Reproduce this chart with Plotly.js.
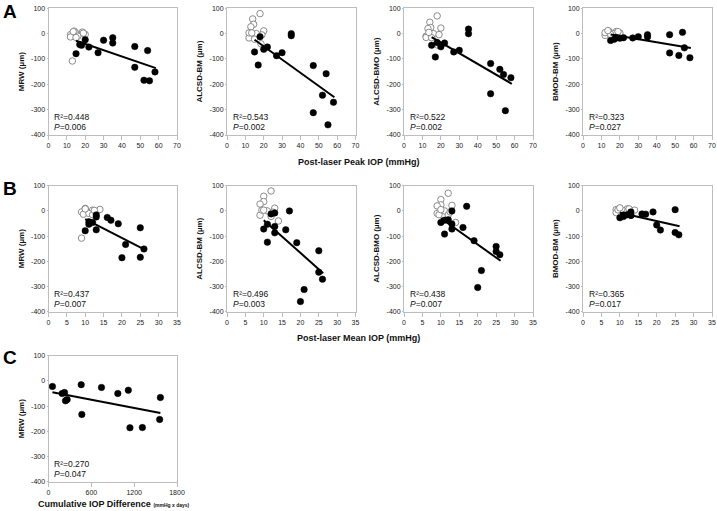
<!DOCTYPE html>
<html>
<head>
<meta charset="utf-8">
<script src="https://cdn.plot.ly/plotly-3.0.1.min.js"></script>
<style>html,body{margin:0;padding:0;background:#fff;}#chart{width:717px;height:511px;}</style>
</head>
<body>
<div id="chart"></div>
<script>
// ---- Data ----
// Eyes with elevated IOP (filled circles)
const peakFilled = [15, 17, 18, 20, 22, 27, 30, 35, 35, 47, 47, 52, 54, 55, 58];
const meanFilled = [10, 11, 12, 13, 11, 13, 16, 17, 13, 19, 21, 25, 25, 20, 26];
const mrwFilled = [-79, -43, -46, -24, -53, -75, -26, -37, -16, -51, -133, -184, -67, -186, -151];
const alcsdBmFilled = [-72, -124, -12, -62, -53, -87, -75, 0, -8, -126, -312, -243, -158, -360, -271];
const alcsdBmoFilled = [-46, -92, -35, -52, -37, -72, -66, 18, 0, -118, -237, -141, -161, -304, -174];
const bmodBmFilled = [-27, -22, -15, -18, -16, -17, -12, -13, -4, -4, -76, -86, 5, -56, -95];

// Eyes without IOP elevation (open circles)
const peakOpen = [18, 14, 14.5, 13, 20, 18.5, 12, 12, 16, 15, 19, 13.5];
const meanOpen = [12, 10, 10, 9, 13, 14, 9, 9.5, 11, 12, 12.5, 10];
const mrwOpen = [3, 10, 4, -108, -3, 6, -4, -13, -10, -15, 2, 8];
const alcsdBmOpen = [79, 58, 37, 27, 11, -40, -17, 3, 0, -22, -5, 3];
const alcsdBmoOpen = [70, 45, 24, 20, 22, -46, -10, -15, 0, -16, -4, 5];
const bmodBmOpen = [8, 10, 5, 5, 2, 3, -7, 4, 0, -3, 8, 12];

// Panel C
const cumDiff = [55, 192, 224, 238, 261, 458, 467, 742, 971, 1118, 1141, 1315, 1557, 1567];
const mrwCum = [-22, -50, -46, -79, -74, -15, -133, -26, -50, -37, -186, -185, -153, -66];

// Regression line end points
const fitPeakX = [15, 58.5];
const fitPeakMrw = [-28, -136];
const fitPeakBm = [-24, -251];
const fitPeakBmo = [-14, -198];
const fitPeakBmod = [-3, -57];
const fitMeanX = [10, 26.2];
const fitMeanMrw = [-33, -154];
const fitMeanBm = [-37, -247];
const fitMeanBmo = [-29, -198];
const fitMeanBmod = [-7, -61];
const fitCumX = [55, 1567];
const fitCumMrw = [-45, -127];

// Statistics
const statsA = [["0.448", "0.006"], ["0.543", "0.002"], ["0.522", "0.002"], ["0.323", "0.027"]];
const statsB = [["0.437", "0.007"], ["0.496", "0.003"], ["0.438", "0.007"], ["0.365", "0.017"]];
const statsC = [["0.270", "0.047"]];

// Axis labels and ticks
const yTitles = ["MRW (µm)", "ALCSD-BM (µm)", "ALCSD-BMO (µm)", "BMOD-BM (µm)"];
const yTickVals = [100, 0, -100, -200, -300, -400];
const yTickText = ["100", "0", "-100", "-200", "-300", "-400"];
const xTicksPeak = [0, 10, 20, 30, 40, 50, 60, 70];
const xTicksMean = [0, 5, 10, 15, 20, 25, 30, 35];
const xTicksCum = [0, 600, 1200, 1800];

// ---- Layout geometry ----
const W = 717, H = 511;
const colPx = [[48.5, 177], [227, 355.5], [404, 533], [583, 712]];
const rowPx = [[8.3, 135], [185.7, 311.7], [355.7, 481.7]];
const FONT = "Liberation Sans, Arial, sans-serif";

const traces = [];
const layout = {
  width: W, height: H,
  margin: {l: 0, r: 0, t: 0, b: 0},
  paper_bgcolor: "#fff", plot_bgcolor: "#fff",
  showlegend: false,
  font: {family: FONT, size: 7, color: "#222"},
  annotations: []
};

let axIdx = 0;
function addPanel(row, col, xs, ys, xo, yo, fx, fy, xRange, xTicks, yTitle, stats) {
  axIdx++;
  const xa = axIdx === 1 ? "x" : "x" + axIdx;
  const ya = axIdx === 1 ? "y" : "y" + axIdx;
  const xk = axIdx === 1 ? "xaxis" : "xaxis" + axIdx;
  const yk = axIdx === 1 ? "yaxis" : "yaxis" + axIdx;
  const c = colPx[col], r = rowPx[row];
  const axCommon = {
    showline: true, linecolor: "#bdbdbd", linewidth: 1, mirror: true,
    showgrid: false, zeroline: false,
    ticks: "outside", tickcolor: "#bdbdbd",
    tickfont: {family: FONT, size: 7, color: "#222"}
  };
  layout[xk] = Object.assign({}, axCommon, {
    domain: [c[0] / W, c[1] / W], anchor: ya, ticklen: 4,
    range: xRange, tickmode: "array", tickvals: xTicks,
    ticktext: xTicks.map(String), fixedrange: true
  });
  layout[yk] = Object.assign({}, axCommon, {
    domain: [1 - r[1] / H, 1 - r[0] / H], anchor: xa, ticklen: 1,
    range: [-400, 100], tickmode: "array", tickvals: yTickVals, ticktext: yTickText,
    title: {text: yTitle, font: {family: FONT, size: 8, color: "#111", weight: "bold"}, standoff: 5},
    fixedrange: true
  });
  if (xo) {
    traces.push({x: xo, y: yo, xaxis: xa, yaxis: ya, type: "scatter", mode: "markers",
      marker: {size: 6.5, color: "#fff", line: {color: "#7f7f7f", width: 0.9}}, hoverinfo: "skip"});
  }
  traces.push({x: xs, y: ys, xaxis: xa, yaxis: ya, type: "scatter", mode: "markers",
    marker: {size: 6.5, color: "#000", line: {color: "#000", width: 0.5}}, hoverinfo: "skip"});
  traces.push({x: fx, y: fy, xaxis: xa, yaxis: ya, type: "scatter", mode: "lines",
    line: {color: "#000", width: 2}, hoverinfo: "skip"});
  const xd = xa + " domain", yd = ya + " domain";
  layout.annotations.push({xref: xd, yref: yd, x: 0.03, y: 0.142, xanchor: "left", yanchor: "middle",
    text: "R²=" + stats[0], showarrow: false, font: {family: FONT, size: 8.5, color: "#111"}});
  layout.annotations.push({xref: xd, yref: yd, x: 0.03, y: 0.063, xanchor: "left", yanchor: "middle",
    text: "<i>P</i>=" + stats[1], showarrow: false, font: {family: FONT, size: 8.5, color: "#111"}});
}

// Row A: peak IOP
addPanel(0, 0, peakFilled, mrwFilled, peakOpen, mrwOpen, fitPeakX, fitPeakMrw, [0, 70], xTicksPeak, yTitles[0], statsA[0]);
addPanel(0, 1, peakFilled, alcsdBmFilled, peakOpen, alcsdBmOpen, fitPeakX, fitPeakBm, [0, 70], xTicksPeak, yTitles[1], statsA[1]);
addPanel(0, 2, peakFilled, alcsdBmoFilled, peakOpen, alcsdBmoOpen, fitPeakX, fitPeakBmo, [0, 70], xTicksPeak, yTitles[2], statsA[2]);
addPanel(0, 3, peakFilled, bmodBmFilled, peakOpen, bmodBmOpen, fitPeakX, fitPeakBmod, [0, 70], xTicksPeak, yTitles[3], statsA[3]);
// Row B: mean IOP
addPanel(1, 0, meanFilled, mrwFilled, meanOpen, mrwOpen, fitMeanX, fitMeanMrw, [0, 35], xTicksMean, yTitles[0], statsB[0]);
addPanel(1, 1, meanFilled, alcsdBmFilled, meanOpen, alcsdBmOpen, fitMeanX, fitMeanBm, [0, 35], xTicksMean, yTitles[1], statsB[1]);
addPanel(1, 2, meanFilled, alcsdBmoFilled, meanOpen, alcsdBmoOpen, fitMeanX, fitMeanBmo, [0, 35], xTicksMean, yTitles[2], statsB[2]);
addPanel(1, 3, meanFilled, bmodBmFilled, meanOpen, bmodBmOpen, fitMeanX, fitMeanBmod, [0, 35], xTicksMean, yTitles[3], statsB[3]);
// Row C: cumulative IOP difference
addPanel(2, 0, cumDiff, mrwCum, null, null, fitCumX, fitCumMrw, [0, 1800], xTicksCum, yTitles[0], statsC[0]);

// Shared axis titles and panel letters
function paperY(px) { return 1 - px / H; }
layout.annotations.push({xref: "paper", yref: "paper", x: 358 / W, y: paperY(162), xanchor: "center", yanchor: "middle",
  text: "<b>Post-laser Peak IOP (mmHg)</b>", showarrow: false, font: {family: FONT, size: 9, color: "#111"}});
layout.annotations.push({xref: "paper", yref: "paper", x: 358 / W, y: paperY(338), xanchor: "center", yanchor: "middle",
  text: "<b>Post-laser Mean IOP (mmHg)</b>", showarrow: false, font: {family: FONT, size: 9, color: "#111"}});
layout.annotations.push({xref: "paper", yref: "paper", x: 114 / W, y: paperY(504), xanchor: "center", yanchor: "middle",
  text: "<b>Cumulative IOP Difference </b><span style='font-size:5px'><b>(mmHg x days)</b></span>", showarrow: false,
  font: {family: FONT, size: 9, color: "#111"}});
const letters = [["A", 11], ["B", 188], ["C", 357]];
letters.forEach(l => layout.annotations.push({xref: "paper", yref: "paper", x: 1 / W, y: paperY(l[1]),
  xanchor: "left", yanchor: "middle", text: "<b>" + l[0] + "</b>", showarrow: false,
  font: {family: FONT, size: 19, color: "#000"}}));

Plotly.newPlot("chart", traces, layout, {staticPlot: true, displayModeBar: false});
</script>
</body>
</html>
